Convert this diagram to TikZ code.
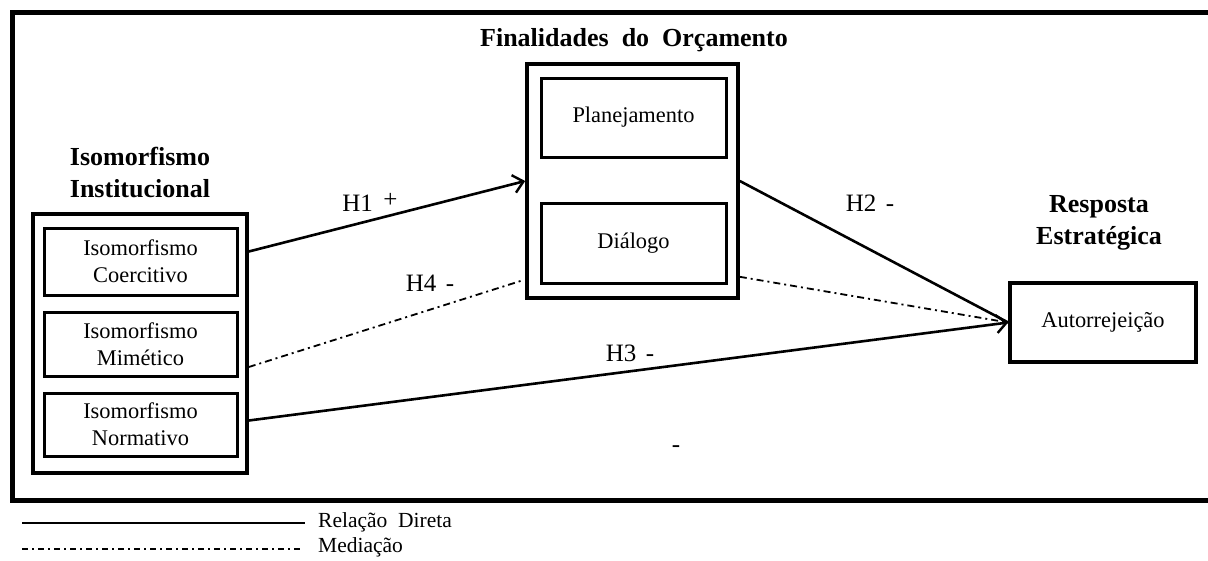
\documentclass[tikz,border=0pt]{standalone}
\usepackage{fontspec}
\setmainfont{Liberation Serif}
\usetikzlibrary{arrows.meta,calc}
\begin{document}
\begin{tikzpicture}[x=1pt,y=-1pt,
  outbox/.style={draw,line width=3.6pt,inner sep=0pt},
  inbox/.style={draw,line width=3pt,inner sep=0pt,align=center,font=\fontsize{22.4}{27}\selectfont},
  ttl/.style={font=\bfseries\fontsize{26}{32}\selectfont,align=center,inner sep=0pt},
  lbl/.style={font=\fontsize{25}{28}\selectfont,inner sep=0pt},
  leg/.style={font=\fontsize{21.5}{24}\selectfont,inner sep=0pt,anchor=west},
  rel/.style={line width=2.6pt},
  med/.style={line width=1.8pt,dash pattern=on 7pt off 4pt on 2pt off 4pt},
  tip/.style={-{Straight Barb[length=10pt,width=18pt,line width=2.4pt]}}]
\useasboundingbox (0,0) rectangle (1208,560);
% outer frame
\draw[line width=5pt] (12,12) rectangle (1212,500);

% left group
\node[outbox,minimum width=214pt,minimum height=259pt] (iso) at (140,343.5) {};
\node[inbox,minimum width=193pt,minimum height=67pt] (coer) at (140.5,261.5) {Isomorfismo\\Coercitivo};
\node[inbox,minimum width=193pt,minimum height=64pt] (mim) at (140.5,344) {Isomorfismo\\Mimético};
\node[inbox,minimum width=193pt,minimum height=63pt] (norm) at (140.5,424.5) {Isomorfismo\\Normativo};
\node[ttl] (isot) at (140,173) {Isomorfismo\\Institucional};

% middle group
\node[outbox,minimum width=211pt,minimum height=234pt] (fin) at (632.5,181) {};
\node[inbox,minimum width=185pt,minimum height=79pt] (plan) at (633.5,117.5) {Planejamento};
\node[inbox,minimum width=185pt,minimum height=80pt] (dial) at (633.5,243) {Diálogo};
\node[ttl] (fint) at (634,40) {Finalidades\ \ do\ \ Orçamento};

% right group
\node[outbox,minimum width=186pt,minimum height=79pt,font=\fontsize{22.4}{26}\selectfont] (auto) at (1103,322.5) {Autorrejeição};
\node[ttl] (rest) at (1099,223) {Resposta\\Estratégica};

% connectors
\draw[rel,tip] ([yshift=10pt]coer.east -| iso.east) -- (fin.west);
\draw[rel] (fin.east) -- (auto.west);
\draw[rel,tip] ([yshift=4pt]norm.east -| iso.east) -- (auto.west);
\draw[med] ([yshift=-23pt]mim.east -| iso.east) -- ([yshift=19pt,xshift=-4pt]fin.south west);
\draw[med] ([yshift=23pt]fin.south east) -- (auto.west);

% labels
\node[lbl] (h1) at (370,202) {H1\hspace{0.42em}\raisebox{4pt}{+}};
\node[lbl] (h2) at (870,203) {H2\hspace{0.38em}-};
\node[lbl] (h4) at (430,283) {H4\hspace{0.38em}-};
\node[lbl] (h3) at (630,353) {H3\hspace{0.38em}-};
\node[lbl] (hm) at (676,449) {-};

% legend
\coordinate (l1) at (22,523);
\coordinate (l2) at (22,549);
\node[leg] (t1) at (318,522) {Relação\ \ Direta};
\node[leg] (t2) at (318,547) {Mediação};
\draw[line width=2.4pt] (l1) -- ([xshift=-13pt,yshift=-1pt]t1.west);
\draw[line width=1.6pt,dash pattern=on 6pt off 4pt on 2pt off 4pt] (l2) -- ([xshift=-18pt,yshift=-2pt]t2.west);
\end{tikzpicture}
\end{document}
